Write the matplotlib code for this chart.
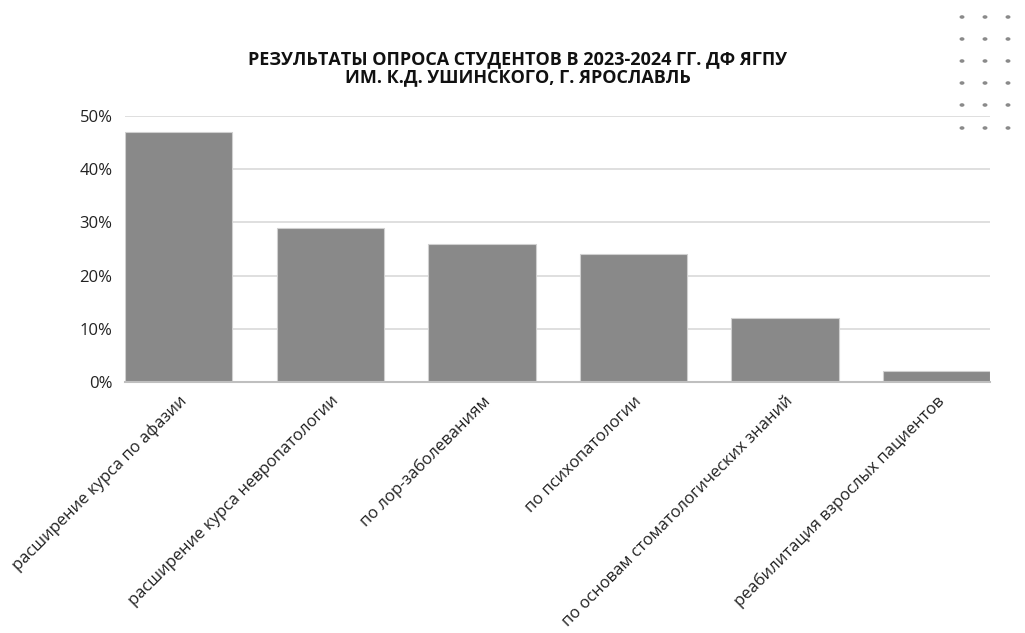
import matplotlib
matplotlib.use("Agg")
import matplotlib.pyplot as plt
from matplotlib.ticker import FuncFormatter, MultipleLocator

categories = [
    "расширение курса по афазии",
    "расширение курса невропатологии",
    "по лор-заболеваниям",
    "по психопатологии",
    "по основам стоматологических знаний",
    "реабилитация взрослых пациентов",
]
values = [0.47, 0.29, 0.26, 0.24, 0.12, 0.02]
title = "РЕЗУЛЬТАТЫ ОПРОСА СТУДЕНТОВ В 2023-2024 ГГ. ДФ ЯГПУ\nИМ. К.Д. УШИНСКОГО, Г. ЯРОСЛАВЛЬ"

plt.rcParams['font.family'] = ['Open Sans', 'DejaVu Sans']

fig = plt.figure(figsize=(10.25, 6.33), dpi=100)
ax = fig.add_axes([0.122, 0.3965, 0.844, 0.4202])

w = 0.709
x = list(range(len(categories)))
ax.bar(x, values, width=w, color="#898989", edgecolor="#d0d0d0", linewidth=0.8, zorder=3)
ax.set_xlim(-w / 2, len(categories) - 1 + w / 2)
ax.set_ylim(0, 0.5)
ax.yaxis.set_major_locator(MultipleLocator(0.1))
ax.yaxis.set_major_formatter(FuncFormatter(lambda v, p: f"{v*100:.0f}%"))
ax.grid(axis="y", color="#d9d9d9", linewidth=1.2, zorder=0)
for s in ["top", "right", "left"]:
    ax.spines[s].set_visible(False)
ax.spines["bottom"].set_color("#bfbfbf")
ax.spines["bottom"].set_linewidth(1.5)
ax.spines["bottom"].set_zorder(4)
ax.tick_params(axis="both", length=0, labelsize=12, colors="#222222")
ax.tick_params(axis="y", pad=9)
ax.set_xticks(x)
ax.set_xticklabels(categories, rotation=45, ha="right", va="top", rotation_mode="anchor", fontsize=12, color="#222222")
ax.tick_params(axis="x", pad=8)

fig.text(0.505, 0.893, title, ha="center", va="center", fontsize=13, fontweight="bold", color="#111111", linespacing=1.0)

# decorative dot grid, top right
for cx in [962, 985, 1008]:
    for cy in [17, 39, 61, 83, 105, 128]:
        fig.patches.append(matplotlib.patches.Circle((cx / 1025, 1 - cy / 633), 0.0017,
                                                     transform=fig.transFigure, color="#8a8a8a", zorder=5))

fig.savefig("out.png", dpi=100)
